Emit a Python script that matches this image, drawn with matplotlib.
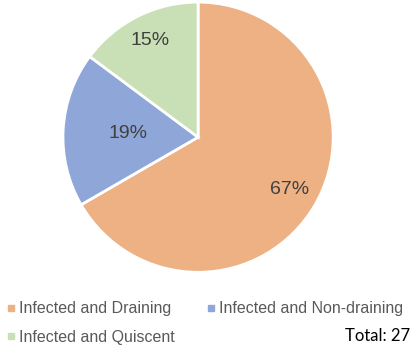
import numpy as np
import matplotlib.pyplot as plt
from matplotlib.lines import Line2D

categories = ['Infected and Draining', 'Infected and Non-draining', 'Infected and Quiscent']
counts = [18, 5, 4]
pct_labels = ['67%', '19%', '15%']
colors = ['#EDB184', '#8FA6D8', '#C9DFB5']
total = sum(counts)

fig = plt.figure(figsize=(4.17, 3.5), dpi=100)
ax = fig.add_axes([0.151, 0.222, 0.648, 0.772])
wedges, _ = ax.pie(counts, colors=colors, startangle=90, counterclock=False,
                   wedgeprops=dict(edgecolor='white', linewidth=2))
ax.set_xlim(-1, 1); ax.set_ylim(-1, 1)
ax.set_aspect('equal')

# label distances from centre
dists = [0.78, 0.52, 0.8]
for w, lab, d in zip(wedges, pct_labels, dists):
    ang = np.deg2rad((w.theta1 + w.theta2) / 2)
    ax.text(d * np.cos(ang), d * np.sin(ang), lab, ha='center', va='center',
            fontsize=14, color='#404040', family='Liberation Sans')

handles = [Line2D([], [], marker='s', linestyle='', markersize=4,
                  color=c) for c in colors]
order = [0, 2, 1]
fig.legend([handles[i] for i in order], [categories[i] for i in order],
           ncol=2, loc='upper left', bbox_to_anchor=(-0.024, 0.18),
           frameon=False, prop=dict(family='Liberation Sans', size=11.5),
           labelcolor='#595959', handletextpad=0.1, handlelength=0.8,
           columnspacing=1.9, labelspacing=0.85)
fig.text(0.983, 0.04, f'Total: {total}', ha='right', va='center',
         fontsize=12, family='Lato', color='black')
fig.savefig('out.png', dpi=100)
